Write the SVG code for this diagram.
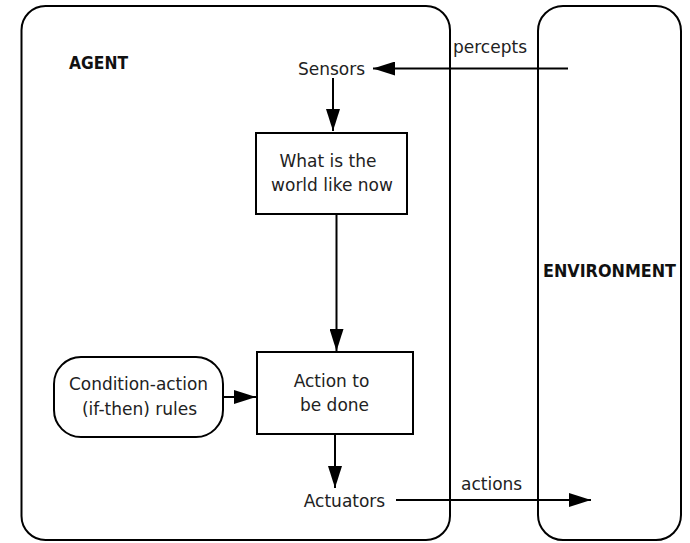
<svg xmlns="http://www.w3.org/2000/svg" width="690" height="543" viewBox="0 0 690 543">
<style>
.box{fill:#fff;stroke:#000;stroke-width:2}
.t{font-family:"DejaVu Sans","Liberation Sans",sans-serif;font-size:17px;fill:#222}
.b{font-family:"DejaVu Sans","Liberation Sans",sans-serif;font-size:17px;font-weight:bold;fill:#111}
.c{stroke:#000;stroke-width:2;fill:none;marker-end:url(#ah)}
</style>
<defs>
<marker id="ah" markerUnits="userSpaceOnUse" markerWidth="22" markerHeight="14" refX="22" refY="7" orient="auto">
<path d="M0,0 L22,7 L0,14 z" fill="#000"/>
</marker>
</defs>
<rect width="690" height="543" fill="#fff"/>
<g id="agent">
<rect class="box" x="21.5" y="6" width="428.5" height="534" rx="24"/>
<text class="b" x="69" y="69" textLength="59" lengthAdjust="spacingAndGlyphs">AGENT</text>
</g>
<g id="environment">
<rect class="box" x="538" y="6" width="143" height="534" rx="25"/>
<text class="b" x="543" y="277" textLength="133" lengthAdjust="spacingAndGlyphs">ENVIRONMENT</text>
</g>
<g id="sensors">
<text class="t" x="331.5" y="75" text-anchor="middle">Sensors</text>
</g>
<g id="world">
<rect class="box" x="256" y="133" width="151" height="81"/>
<text class="t" x="328" y="167" text-anchor="middle">What is the</text>
<text class="t" x="332" y="191" text-anchor="middle">world like now</text>
</g>
<g id="rules">
<rect class="box" x="54" y="357" width="169" height="80" rx="27"/>
<text class="t" x="138.5" y="390" text-anchor="middle" textLength="139" lengthAdjust="spacingAndGlyphs">Condition-action</text>
<text class="t" x="139.5" y="415" text-anchor="middle">(if-then) rules</text>
</g>
<g id="action">
<rect class="box" x="257" y="352" width="156" height="82"/>
<text class="t" x="331.5" y="387" text-anchor="middle">Action to</text>
<text class="t" x="334.5" y="411" text-anchor="middle">be done</text>
</g>
<g id="actuators">
<text class="t" x="344.5" y="507" text-anchor="middle">Actuators</text>
</g>
<g id="connectors">
<path class="c" d="M568,68.5 L373,68.5"/>
<text class="t" x="453" y="53">percepts</text>
<path class="c" d="M333,78 L333,131"/>
<path class="c" d="M336.5,214 L336.5,351"/>
<path class="c" d="M223,397 L256,397"/>
<path class="c" d="M335,434 L335,488"/>
<path class="c" d="M396,500 L591,500"/>
<text class="t" x="461" y="490">actions</text>
</g>
</svg>
